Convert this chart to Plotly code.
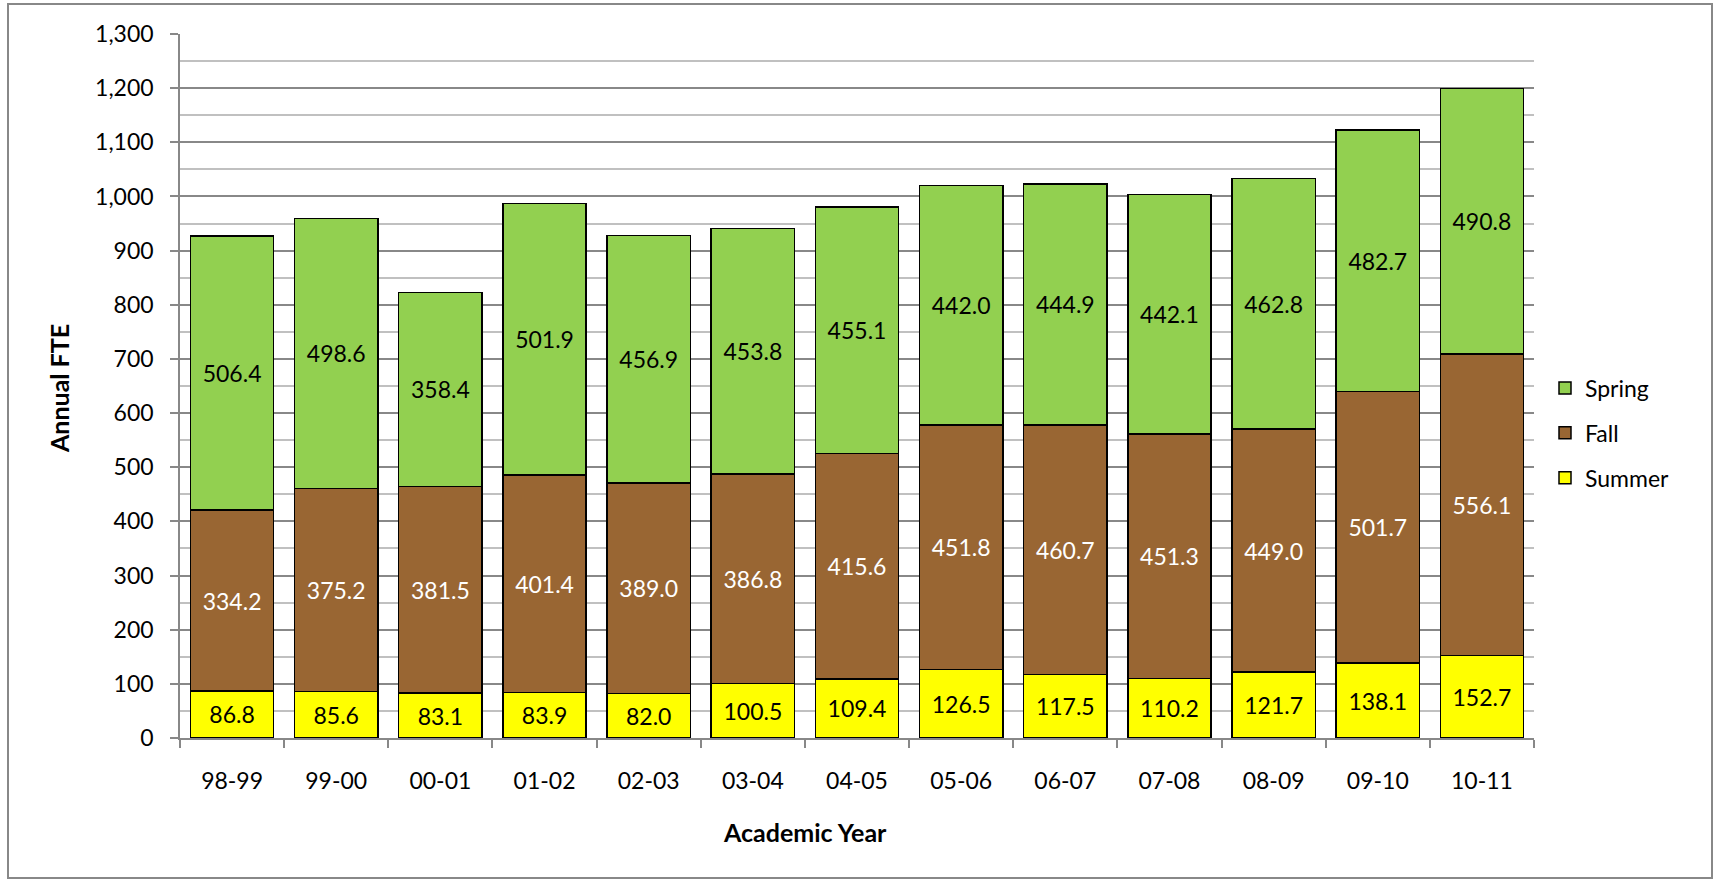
import plotly.graph_objects as go

years = ["98-99", "99-00", "00-01", "01-02", "02-03", "03-04", "04-05",
         "05-06", "06-07", "07-08", "08-09", "09-10", "10-11"]
summer = [86.8, 85.6, 83.1, 83.9, 82.0, 100.5, 109.4, 126.5, 117.5, 110.2, 121.7, 138.1, 152.7]
fall = [334.2, 375.2, 381.5, 401.4, 389.0, 386.8, 415.6, 451.8, 460.7, 451.3, 449.0, 501.7, 556.1]
spring = [506.4, 498.6, 358.4, 501.9, 456.9, 453.8, 455.1, 442.0, 444.9, 442.1, 462.8, 482.7, 490.8]

FONT = "Lato"
FS = 23
W, H = 1714, 880
L, R, T, B = 180, 180, 34, 142
PW, PH = W - L - R, H - T - B

def px(x):
    return (x - L) / PW

def py(y):
    return (H - B - y) / PH

fig = go.Figure()
series = [("Summer", summer, "#FFFF00", "black", 3),
          ("Fall", fall, "#996633", "white", 2),
          ("Spring", spring, "#92D050", "black", 1)]
for name, vals, col, tcol, rank in series:
    fig.add_trace(go.Bar(
        x=years, y=vals, name=name, legendgroup=name, legendrank=rank,
        marker=dict(color=col, line=dict(color="black", width=1.5)),
        texttemplate="%{y:.1f}", textposition="inside", insidetextanchor="middle",
        textangle=0, constraintext="none",
        textfont=dict(family=FONT, size=FS, color=tcol),
        hoverinfo="skip",
    ))

fig.update_layout(
    width=W, height=H,
    margin=dict(l=L, r=R, t=T, b=B),
    barmode="stack", bargap=0.2,
    paper_bgcolor="white", plot_bgcolor="white",
    font=dict(family=FONT, size=FS, color="black"),
    showlegend=True,
    legend=dict(x=px(1545), y=py(433), xanchor="left", yanchor="middle",
                traceorder="grouped", tracegroupgap=12,
                font=dict(family=FONT, size=FS, color="black"),
                bgcolor="rgba(0,0,0,0)"),
    xaxis=dict(type="category", tickson="boundaries", ticks="outside", ticklen=8,
               tickcolor="#888888", tickwidth=1.5, showgrid=False,
               showline=True, linecolor="#888888", linewidth=1.5,
               ticklabelstandoff=22,
               tickfont=dict(family=FONT, size=FS)),
    yaxis=dict(range=[0, 1300], dtick=100, tickformat=",", ticks="outside", ticklen=8,
               tickcolor="#888888", tickwidth=1.5,
               showgrid=True, gridcolor="#888888", gridwidth=1.5,
               minor=dict(dtick=50, showgrid=True, gridcolor="#C0C0C0", gridwidth=1.5),
               showline=True, linecolor="#888888", linewidth=1.5,
               zeroline=False, ticklabelstandoff=12,
               tickfont=dict(family=FONT, size=FS)),
    annotations=[
        dict(text="<b>Academic Year</b>", x=px(805), y=py(832), xref="paper", yref="paper",
             showarrow=False, xanchor="center", yanchor="middle",
             font=dict(family=FONT, size=25)),
        dict(text="<b>Annual FTE</b>", x=px(59), y=py(388), xref="paper", yref="paper",
             showarrow=False, xanchor="center", yanchor="middle", textangle=-90,
             font=dict(family=FONT, size=25)),
    ],
    shapes=[dict(type="rect", xref="paper", yref="paper",
                 x0=px(8), x1=px(1712), y0=py(878), y1=py(4),
                 line=dict(color="#888888", width=2), fillcolor="rgba(0,0,0,0)",
                 layer="below")],
)

fig.write_html("out.html", config={"displayModeBar": False},
               post_script="document.body.style.margin='0';document.body.style.overflow='hidden';")
